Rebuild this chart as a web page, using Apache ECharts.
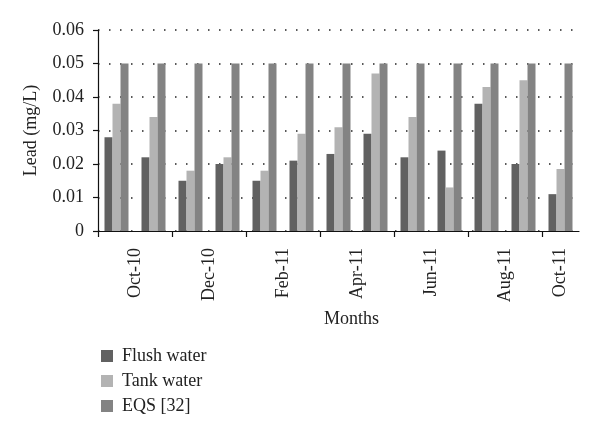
<!DOCTYPE html>
<html>
<head>
<meta charset="utf-8">
<script src="https://cdn.jsdelivr.net/npm/echarts@6/dist/echarts.min.js"></script>
<style>
html,body{margin:0;padding:0;background:#fff;}
#chart{width:600px;height:435px;}
</style>
</head>
<body>
<div id="chart"></div>
<script>
var months = ['Oct-10','Nov-10','Dec-10','Jan-11','Feb-11','Mar-11','Apr-11','May-11','Jun-11','Jul-11','Aug-11','Sep-11','Oct-11'];
var flushWater = [0.028,0.022,0.015,0.020,0.015,0.021,0.023,0.029,0.022,0.024,0.038,0.020,0.011];
var tankWater  = [0.038,0.034,0.018,0.022,0.018,0.029,0.031,0.047,0.034,0.013,0.043,0.045,0.0185];
var eqs        = [0.05,0.05,0.05,0.05,0.05,0.05,0.05,0.05,0.05,0.05,0.05,0.05,0.05];
var tickLabels = ['Oct-10','Dec-10','Feb-11','Apr-11','Jun-11','Aug-11','Oct-11'];

// label axis: half-category positions, each label centred between its tick marks
var halfSlots = months.length * 2 + 1;
var labelSlots = [];
for (var i = 0; i < halfSlots; i++) labelSlots.push('');
tickLabels.forEach(function (t, k) {
  var idx = Math.min(k * 4 + 2, halfSlots - 2);
  labelSlots[idx] = t;
});

var font = 'Liberation Serif';
var fs = 18;
var textColor = '#222';
var chart = echarts.init(document.getElementById('chart'));
chart.setOption({
  animation: false,
  backgroundColor: '#fff',
  grid: {left: 98, right: 21, top: 30, bottom: 204, containLabel: false},
  legend: {
    orient: 'vertical', left: 96, top: 342,
    itemWidth: 12, itemHeight: 12, itemGap: 7,
    icon: 'rect',
    textStyle: {fontFamily: font, fontSize: fs, color: textColor, lineHeight: 18, padding: [0,0,0,4]},
    data: ['Flush water','Tank water','EQS [32]']
  },
  xAxis: [{
    type: 'category', data: months, boundaryGap: true,
    name: 'Months', nameLocation: 'middle', nameGap: 79,
    nameTextStyle: {fontFamily: font, fontSize: fs, color: textColor, padding: [0,0,0,26]},
    axisLine: {lineStyle: {color: '#111', width: 1.2}},
    axisTick: {show: false},
    axisLabel: {show: false},
    splitLine: {show: false}
  }, {
    type: 'category', data: labelSlots, boundaryGap: false, position: 'bottom',
    axisLine: {show: false}, splitLine: {show: false},
    axisTick: {show: true, length: 6, lineStyle: {color: '#111', width: 1.2},
      interval: function (index) { return index % 4 === 0 && index < halfSlots - 1; }},
    axisLabel: {show: true, interval: 0, rotate: 90, margin: 17, fontFamily: font, fontSize: fs, color: textColor}
  }],
  yAxis: {
    type: 'value', min: 0, max: 0.06, interval: 0.01,
    name: 'Lead (mg/L)', nameLocation: 'middle', nameGap: 58,
    nameTextStyle: {fontFamily: font, fontSize: fs, color: textColor},
    axisLine: {show: true, lineStyle: {color: '#111', width: 1.2}},
    axisTick: {show: true, inside: false, length: 5, lineStyle: {color: '#111', width: 1.2}},
    axisLabel: {margin: 14, fontFamily: font, fontSize: fs, color: textColor,
      formatter: function (v) { return v === 0 ? '0' : String(+v.toFixed(2)); }},
    splitLine: {show: true, lineStyle: {color: '#222', width: 1.5, type: [1.5, 9.5]}}
  },
  series: [
    {name: 'Flush water', type: 'bar', data: flushWater, barWidth: 8, barGap: '0%', itemStyle: {color: '#616161'}},
    {name: 'Tank water', type: 'bar', data: tankWater, barWidth: 8, barGap: '0%', itemStyle: {color: '#b3b3b3'}},
    {name: 'EQS [32]', type: 'bar', data: eqs, barWidth: 8, barGap: '0%', itemStyle: {color: '#838383'}}
  ]
});
</script>
</body>
</html>
